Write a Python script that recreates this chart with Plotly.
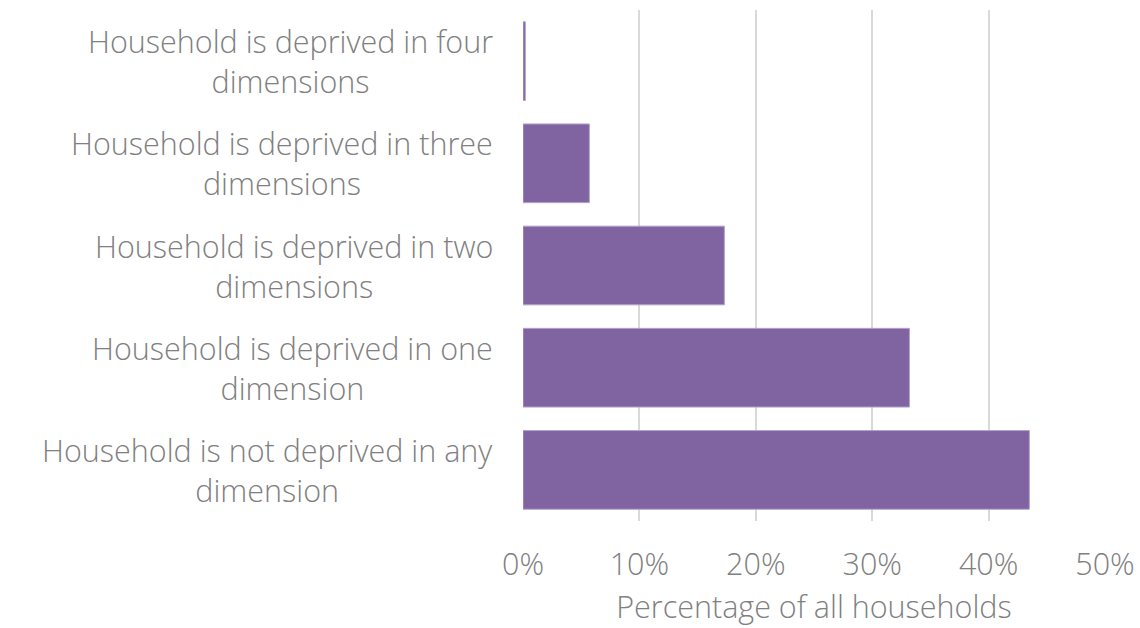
import plotly.graph_objects as go

categories = [
    "Household is deprived in four<br>dimensions",
    "Household is deprived in three<br>dimensions",
    "Household is deprived in two<br>dimensions",
    "Household is deprived in one<br>dimension",
    "Household is not deprived in any<br>dimension",
]
values = [0.2, 5.7, 17.3, 33.2, 43.5]
tick_vals = [0, 10, 20, 30, 40, 50]
tick_text = ["0%", "10%", "20%", "30%", "40%", "50%"]

FONT = "Open Sans"
GREY = "#808080"
FS = 30.5

fig = go.Figure(
    go.Bar(
        x=values,
        y=categories,
        orientation="h",
        marker=dict(color="#8064A2", line=dict(color="#B3A2CC", width=1)),
        width=0.77,
        hoverinfo="x+y",
    )
)

annotations = [
    dict(
        x=0, xref="paper", xanchor="right", xshift=-28,
        y=c, yref="y", yanchor="middle",
        text=c, showarrow=False, align="center",
        font=dict(family=FONT, size=FS, color=GREY, weight=300),
    )
    for c in categories
]

fig.update_layout(
    width=1140,
    height=628,
    margin=dict(l=523, r=35, t=10, b=107),
    paper_bgcolor="white",
    plot_bgcolor="white",
    showlegend=False,
    annotations=annotations,
    xaxis=dict(
        range=[0, 50],
        tickvals=tick_vals,
        ticktext=tick_text,
        showgrid=True,
        gridcolor="#D9D9D9",
        gridwidth=2,
        zeroline=False,
        showline=False,
        ticks="",
        ticklabelstandoff=22,
        tickfont=dict(family=FONT, size=FS, color=GREY, weight=300),
        title=dict(text="Percentage of all households", standoff=14,
                   font=dict(family=FONT, size=FS, color=GREY, weight=300)),
        fixedrange=True,
        automargin=False,
    ),
    yaxis=dict(
        categoryorder="array",
        categoryarray=categories,
        autorange="reversed",
        showticklabels=False,
        showgrid=False,
        zeroline=False,
        showline=False,
        fixedrange=True,
    ),
)

fig.write_html("out.html", config={"displayModeBar": False},
               post_script="document.body.style.margin='0';")
